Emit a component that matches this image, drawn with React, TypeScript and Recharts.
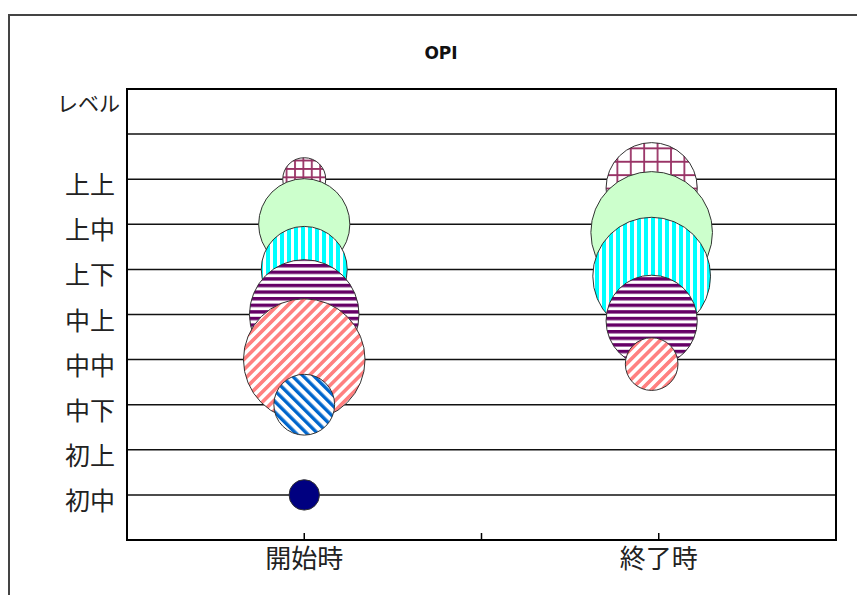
import { ScatterChart, Scatter, XAxis, YAxis, ZAxis, CartesianGrid, ReferenceArea } from 'recharts';

// レベル軸（0〜10）。9 と 10 はラベルなし
const LEVEL_LABELS = ['', '初中', '初上', '中下', '中中', '中上', '上下', '上中', '上上', '', ''];
const LEVEL_TICKS = [0, 1, 2, 3, 4, 5, 6, 7, 8, 9, 10];

const CATEGORIES = ['開始時', '終了時'];
const X_TICKS = [0.5, 1, 1.5];

// 系列ごとの値（開始時 / 終了時）
const SERIES_NAMES = ['上上', '上中', '上下', '中上', '中中', '中下', '初中'];
const START_X = 0.5;
const END_X = 1.48;
const START_LEVEL = [8, 7, 6, 5, 4, 3, 1];
const START_COUNT = [2, 9, 8, 13, 16, 4, 1];
const END_LEVEL = [7.8, 6.82, 5.85, 4.86, 3.9, null, null];
const END_COUNT = [9, 16, 15, 9, 3, 0, 0];

const JP = '"Noto Sans CJK JP", "Noto Sans CJK SC", sans-serif';
const MAX_COUNT = 16;
const MAX_R = 60.8;

// 塗りパターン（終了時の格子だけ目が粗い）
const FILLS: string[][] = [
  ['url(#grid-s)', 'url(#grid-l)'],
  ['#ccffcc', '#ccffcc'],
  ['url(#vstripe)', 'url(#vstripe)'],
  ['url(#hstripe)', 'url(#hstripe)'],
  ['url(#dstripe)', 'url(#dstripe)'],
  ['url(#bstripe)', 'url(#bstripe)'],
  ['#000080', '#000080'],
];

const seriesData = SERIES_NAMES.map((name, i) => {
  const pts = [{ x: START_X, y: START_LEVEL[i], z: START_COUNT[i] }];
  if (END_LEVEL[i] != null && END_COUNT[i] > 0) {
    pts.push({ x: END_X, y: END_LEVEL[i] as number, z: END_COUNT[i] });
  }
  return { name, pts };
});

function Patterns() {
  return (
    <svg width={0} height={0} style={{ position: 'absolute' }}>
      <defs>
        <pattern id="grid-s" width={8.4} height={8.4} patternUnits="userSpaceOnUse">
          <rect width={8.4} height={8.4} fill="#fff" />
          <path d="M0 1H8.4M1 0V8.4" stroke="#993366" strokeWidth={1.8} />
        </pattern>
        <pattern id="grid-l" width={13.4} height={13.4} patternUnits="userSpaceOnUse">
          <rect width={13.4} height={13.4} fill="#fff" />
          <path d="M0 1H13.4M1 0V13.4" stroke="#993366" strokeWidth={1.8} />
        </pattern>
        <pattern id="vstripe" width={7} height={7} patternUnits="userSpaceOnUse">
          <rect width={7} height={7} fill="#fff" />
          <rect width={4} height={7} fill="#00ffff" />
        </pattern>
        <pattern id="hstripe" width={6.6} height={6.6} patternUnits="userSpaceOnUse">
          <rect width={6.6} height={6.6} fill="#fff" />
          <rect width={6.6} height={3.4} fill="#660066" />
        </pattern>
        <pattern id="dstripe" width={7.2} height={7.2} patternUnits="userSpaceOnUse" patternTransform="rotate(45)">
          <rect width={7.2} height={7.2} fill="#fff" />
          <rect width={3.6} height={7.2} fill="#ff8080" />
        </pattern>
        <pattern id="bstripe" width={7.6} height={7.6} patternUnits="userSpaceOnUse" patternTransform="rotate(-45)">
          <rect width={7.6} height={7.6} fill="#fff" />
          <rect width={3.4} height={7.6} fill="#0066cc" />
        </pattern>
      </defs>
    </svg>
  );
}

function YTick({ x, y, payload }: any) {
  return (
    <text x={x} y={y + 15} textAnchor="end" fontSize={25} fontFamily={JP} fill="#222">
      {LEVEL_LABELS[payload.value] ?? ''}
    </text>
  );
}

function XTick({ x, y, payload }: any) {
  const label = payload.value === 0.5 ? CATEGORIES[0] : payload.value === 1.5 ? CATEGORIES[1] : '';
  return (
    <g>
      <line x1={x} x2={x} y1={y - 7} y2={y} stroke="#000" strokeWidth={1.5} />
      <text x={x} y={y + 28} textAnchor="middle" fontSize={26} fontFamily={JP} fill="#222">
        {label}
      </text>
    </g>
  );
}

function Bubble({ cx, cy, width, payload, fills }: any) {
  if (!width) return null;
  const fill = payload.x < 1 ? fills[0] : fills[1];
  return <circle cx={cx} cy={cy} r={width / 2} fill={fill} stroke="#333" strokeWidth={1} />;
}

export default function App() {
  return (
    <div style={{ position: 'relative', width: 857, height: 587, overflow: 'hidden' }}>
      <style>{'html, body { overflow: hidden; }'}</style>
      <Patterns />
      {/* 外枠 */}
      <div
        style={{
          position: 'absolute', left: 0, top: 6, width: 1000, height: 1000,
          borderTop: '2px solid #444', borderLeft: '2px solid #444',
        }}
      />
      <div
        style={{
          position: 'absolute', left: 383, top: 35, width: 100, textAlign: 'center',
          fontFamily: '"DejaVu Sans", sans-serif', fontWeight: 700, fontSize: 17, color: '#111',
        }}
      >
        OPI
      </div>
      <div style={{ position: 'absolute', left: -8, top: -8 }}>
        <ScatterChart width={865} height={595} margin={{ top: 89, right: 29, bottom: 10, left: 17 }}>
          <CartesianGrid horizontal vertical={false} stroke="#111" strokeWidth={1.5} />
          <XAxis
            type="number"
            dataKey="x"
            domain={[0, 2]}
            ticks={X_TICKS}
            interval={0}
            height={45}
            tickSize={0}
            tickMargin={0}
            tickLine={false}
            tick={<XTick />}
            axisLine={{ stroke: '#000', strokeWidth: 2 }}
          />
          <YAxis
            type="number"
            dataKey="y"
            domain={[0, 10]}
            ticks={LEVEL_TICKS}
            interval={0}
            width={110}
            tickSize={0}
            tickMargin={12}
            tickLine={false}
            tick={<YTick />}
            axisLine={{ stroke: '#000', strokeWidth: 2 }}
            label={{
              value: 'レベル', position: 'insideTopRight', offset: 7,
              fontSize: 21, fontFamily: JP, fill: '#222',
            }}
          />
          <ZAxis type="number" dataKey="z" domain={[0, MAX_COUNT]} range={[0, Math.PI * MAX_R * MAX_R]} />
          <ReferenceArea x1={0} x2={2} y1={0} y2={10} fill="none" stroke="#000" strokeWidth={2} />
          {seriesData.map((s, i) => (
            <Scatter
              key={s.name}
              name={s.name}
              data={s.pts}
              isAnimationActive={false}
              shape={(p: any) => <Bubble {...p} fills={FILLS[i]} />}
            />
          ))}
        </ScatterChart>
      </div>
    </div>
  );
}
